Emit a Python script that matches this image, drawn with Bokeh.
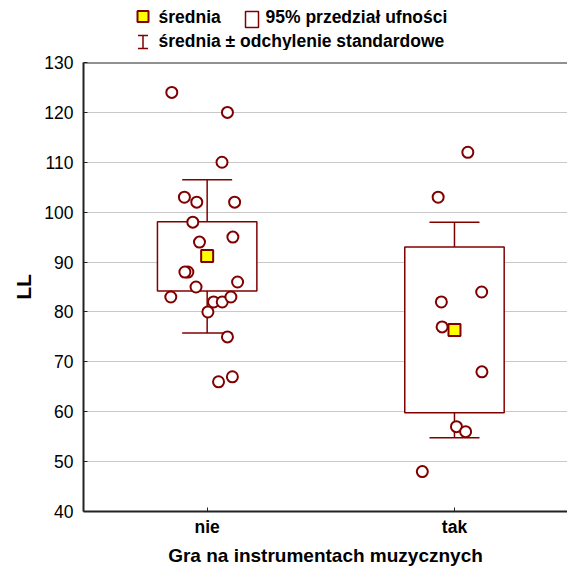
from bokeh.plotting import figure
from bokeh.layouts import column
from bokeh.models import Range1d, FixedTicker, Span, ColumnDataSource
from bokeh.core.properties import value
from bokeh.embed import file_html
from bokeh.resources import INLINE

# ---------------- data ----------------
groups = ["nie", "tak"]
nie_values = [124, 120, 110, 103, 102, 102, 98, 94, 95, 88, 88, 86, 85, 83, 82, 82, 83, 80, 75, 66, 67]
nie_jitter = [-0.143, 0.082, 0.060, -0.092, -0.042, 0.111, -0.058, -0.031, 0.104, -0.078, -0.090,
              0.123, -0.045, -0.147, 0.026, 0.061, 0.096, 0.003, 0.082, 0.046, 0.102]
tak_values = [112, 103, 84, 82, 77, 68, 57, 56, 48]
tak_jitter = [0.054, -0.066, 0.110, -0.053, -0.050, 0.111, 0.008, 0.045, -0.130]
means = [91.2, 76.4]
ci_low = [84.2, 59.8]
ci_high = [98.1, 93.0]
sd_low = [75.8, 54.8]
sd_high = [106.5, 98.0]
y_ticks = [40, 50, 60, 70, 80, 90, 100, 110, 120, 130]

legend_labels = ["średnia", "95% przedział ufności", "średnia ± odchylenie standardowe"]
x_title = "Gra na instrumentach muzycznych"
y_title = "LL"

# ---------------- styles ----------------
DARK = "#800000"
FONT = "Liberation Sans"
BOX_HALF = 0.201
CAP_HALF = 0.101
W = 567
LEFT = 83
LEG_H = 50
MAIN_H = 525

# ---------------- legend figure ----------------
leg = figure(width=W, height=LEG_H, x_range=Range1d(LEFT, W), y_range=Range1d(0, LEG_H),
             output_backend="svg", toolbar_location=None, min_border=0,
             min_border_left=LEFT)
leg.axis.visible = False
leg.grid.visible = False
leg.outline_line_color = None

# row 1: mean marker
leg.scatter(x=[142.5], y=[34], marker="square", size=11, fill_color="#FFFF00",
            line_color=DARK, line_width=2)
# row 1: CI box icon
leg.rect(x=[251.5], y=[31], width=13, height=16, fill_color="white",
         line_color=DARK, line_width=1.5)
# row 2: whisker icon
leg.segment(x0=[142.5], y0=[15], x1=[142.5], y1=[2], line_color=DARK, line_width=1.5)
leg.segment(x0=[137.5, 137.5], y0=[15, 2], x1=[147.5, 147.5], y1=[15, 2],
            line_color=DARK, line_width=1.5)
leg.text(x=[158, 265, 158], y=[34, 34, 10], text=legend_labels,
         text_font=value(FONT), text_font_style="bold", text_font_size="17.5px",
         text_baseline="middle", text_align="left", text_color="black")

# ---------------- main figure ----------------
p = figure(width=W, height=MAIN_H, x_range=Range1d(-0.5, 1.457), y_range=Range1d(40, 130),
           output_backend="svg", toolbar_location=None,
           min_border_left=LEFT, min_border_right=0, min_border_top=12, min_border_bottom=64)
p.outline_line_color = None
p.background_fill_color = "white"

gx = [0, 1]

# y axis
p.yaxis.ticker = FixedTicker(ticks=y_ticks)
p.yaxis.major_tick_in = 4
p.yaxis.major_tick_out = 0
p.yaxis.minor_tick_line_color = None
p.yaxis.axis_line_color = "#222222"
p.yaxis.axis_line_width = 2
p.yaxis.major_tick_line_color = "#222222"
p.yaxis.major_label_text_font = FONT
p.yaxis.major_label_text_font_size = "17.5px"
p.yaxis.major_label_text_color = "black"
p.yaxis.major_label_standoff = 10
p.yaxis.axis_label = y_title
p.yaxis.axis_label_text_font = FONT
p.yaxis.axis_label_text_font_size = "21px"
p.yaxis.axis_label_text_font_style = "bold"
p.yaxis.axis_label_text_color = "black"
p.yaxis.axis_label_standoff = 6

# x axis
p.xaxis.ticker = FixedTicker(ticks=gx)
p.xaxis.major_label_overrides = {0: groups[0], 1: groups[1]}
p.xaxis.major_tick_in = 4
p.xaxis.major_tick_out = 0
p.xaxis.minor_tick_line_color = None
p.xaxis.axis_line_color = "#222222"
p.xaxis.axis_line_width = 2
p.xaxis.major_tick_line_color = "#222222"
p.xaxis.major_label_text_font = FONT
p.xaxis.major_label_text_font_size = "17.5px"
p.xaxis.major_label_text_font_style = "bold"
p.xaxis.major_label_text_color = "black"
p.xaxis.major_label_standoff = 5
p.xaxis.axis_label = x_title
p.xaxis.axis_label_text_font = FONT
p.xaxis.axis_label_text_font_size = "19px"
p.xaxis.axis_label_text_font_style = "bold"
p.xaxis.axis_label_text_color = "black"
p.xaxis.axis_label_standoff = 5

p.xgrid.visible = False
p.ygrid.ticker = FixedTicker(ticks=y_ticks)
p.ygrid.grid_line_color = "#C8C8C8"
p.ygrid.grid_line_width = 1

# top frame line
p.add_layout(Span(location=130, dimension="width", line_color="#222222", line_width=2))

# whiskers (mean ± SD)
p.segment(x0=gx, y0=sd_low, x1=gx, y1=sd_high, line_color=DARK, line_width=1.5)
p.segment(x0=[g - CAP_HALF for g in gx], y0=sd_high, x1=[g + CAP_HALF for g in gx], y1=sd_high,
          line_color=DARK, line_width=1.5)
p.segment(x0=[g - CAP_HALF for g in gx], y0=sd_low, x1=[g + CAP_HALF for g in gx], y1=sd_low,
          line_color=DARK, line_width=1.5)

# CI boxes
p.quad(left=[g - BOX_HALF for g in gx], right=[g + BOX_HALF for g in gx],
       bottom=ci_low, top=ci_high, fill_color="white", line_color=DARK, line_width=1.5)

# raw points
px = [gx[0] + j for j in nie_jitter] + [gx[1] + j for j in tak_jitter]
py = nie_values + tak_values
src = ColumnDataSource(dict(x=px, y=py))
p.scatter(x="x", y="y", source=src, marker="circle", size=11, fill_color="white",
          line_color=DARK, line_width=2)

# means
p.scatter(x=gx, y=means, marker="square", size=12, fill_color="#FFFF00",
          line_color=DARK, line_width=2)

layout = column(leg, p, spacing=0)
open("out.html", "w").write(file_html(layout, INLINE))
